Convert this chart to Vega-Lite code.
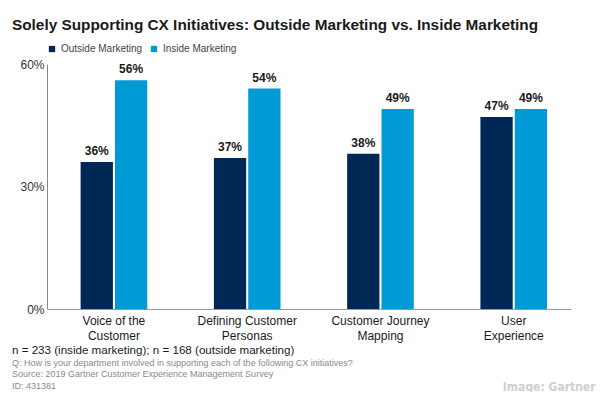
{
  "$schema": "https://vega.github.io/schema/vega-lite/v6.json",
  "background": "white",
  "padding": {"left": 12, "top": 17, "right": 5, "bottom": 0},
  "config": {"font": "Liberation Sans", "view": {"stroke": null}},
  "title": {
    "text": "Solely Supporting CX Initiatives: Outside Marketing vs. Inside Marketing",
    "anchor": "start",
    "fontSize": 15.35,
    "fontWeight": "bold",
    "color": "#1a1a1a",
    "offset": 11
  },
  "vconcat": [
    {
      "width": 524,
      "height": 245,
      "title": {
        "text": "n = 233 (inside marketing); n = 168 (outside marketing)",
        "subtitle": [
          "Q: How is your department involved in supporting each of the following CX initiatives?",
          "Source: 2019 Gartner Customer Experience Management Survey",
          "ID: 431381"
        ],
        "orient": "bottom",
        "anchor": "start",
        "frame": "group",
        "dx": -35,
        "fontSize": 11.6,
        "fontWeight": "normal",
        "color": "#1a1a1a",
        "subtitleFontSize": 9,
        "subtitleColor": "#8a8a8a",
        "subtitlePadding": 2,
        "subtitleLineHeight": 11.5,
        "offset": -47
      },
      "data": {
        "values": [
          {"initiative": "Voice of the|Customer", "group": "Outside Marketing", "pct": 0.36},
          {"initiative": "Voice of the|Customer", "group": "Inside Marketing", "pct": 0.56},
          {"initiative": "Defining Customer|Personas", "group": "Outside Marketing", "pct": 0.37},
          {"initiative": "Defining Customer|Personas", "group": "Inside Marketing", "pct": 0.54},
          {"initiative": "Customer Journey|Mapping", "group": "Outside Marketing", "pct": 0.38},
          {"initiative": "Customer Journey|Mapping", "group": "Inside Marketing", "pct": 0.49},
          {"initiative": "User|Experience", "group": "Outside Marketing", "pct": 0.47},
          {"initiative": "User|Experience", "group": "Inside Marketing", "pct": 0.49}
        ]
      },
      "encoding": {
        "x": {
          "field": "initiative",
          "type": "nominal",
          "sort": ["Voice of the|Customer", "Defining Customer|Personas", "Customer Journey|Mapping", "User|Experience"],
          "scale": {"paddingInner": 0.5, "paddingOuter": 0.216, "align": 0.584},
          "axis": {
            "labelAngle": 0,
            "labelExpr": "split(datum.value, '|')",
            "labelFontSize": 12,
            "labelColor": "#1a1a1a",
            "labelLineHeight": 15,
            "labelPadding": 6,
            "ticks": false,
            "domainColor": "#999999",
            "title": "Image: Gartner",
            "titleAnchor": "end",
            "titleAlign": "right",
            "titleBaseline": "alphabetic",
            "titleX": 548,
            "titleY": 81,
            "titleFont": "DejaVu Sans Condensed, DejaVu Sans, sans-serif",
            "titleFontSize": 12,
            "titleFontWeight": "bold",
            "titleColor": "#cfcfcf"
          }
        },
        "y": {
          "field": "pct",
          "type": "quantitative",
          "scale": {"domain": [0, 0.6]},
          "axis": {
            "values": [0, 0.3, 0.6],
            "format": ".0%",
            "grid": false,
            "ticks": false,
            "labelFontSize": 12,
            "labelColor": "#333333",
            "labelPadding": 3,
            "domainColor": "#888888",
            "title": null
          }
        },
        "xOffset": {
          "field": "group",
          "type": "nominal",
          "sort": ["Outside Marketing", "Inside Marketing"],
          "scale": {"paddingInner": 0.06}
        }
      },
      "layer": [
        {
          "mark": {"type": "bar"},
          "encoding": {
            "color": {
              "field": "group",
              "type": "nominal",
              "sort": ["Outside Marketing", "Inside Marketing"],
              "scale": {"domain": ["Outside Marketing", "Inside Marketing"], "range": ["#002856", "#009ad7"]},
              "legend": {
                "orient": "top",
                "direction": "horizontal",
                "title": null,
                "symbolType": "square",
                "symbolSize": 40,
                "symbolStrokeWidth": 0,
                "labelFontSize": 10,
                "labelColor": "#444444",
                "labelOffset": 4,
                "columnPadding": 6,
                "padding": 0,
                "offset": 4
              }
            }
          }
        },
        {
          "mark": {"type": "text", "baseline": "bottom", "dy": -4, "fontWeight": "bold", "fontSize": 12, "color": "#1a1a1a"},
          "encoding": {
            "text": {"field": "pct", "type": "quantitative", "format": ".0%"}
          }
        }
      ]
    }
  ]
}
